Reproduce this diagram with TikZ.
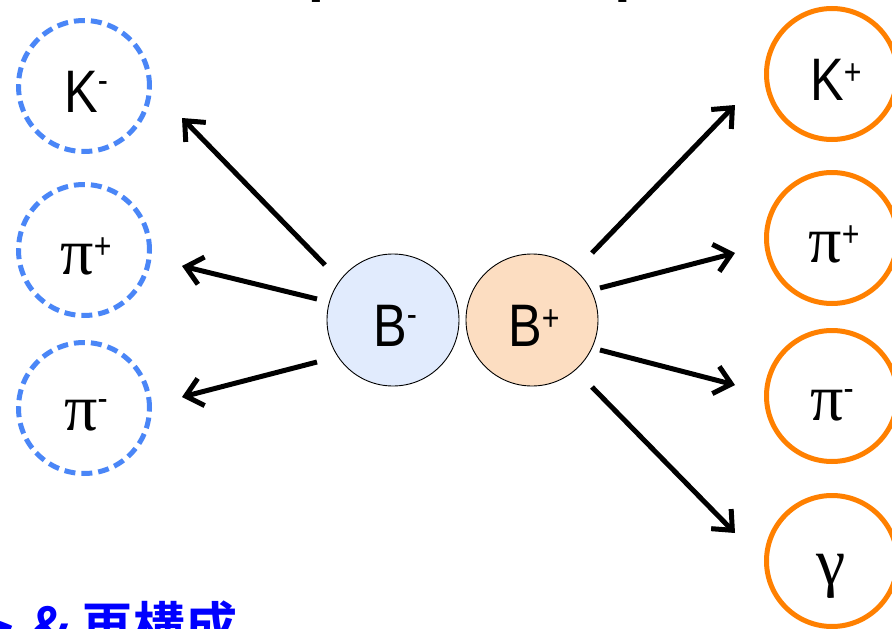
\documentclass[tikz,border=0pt]{standalone}
\usepackage{fontspec}
\usetikzlibrary{arrows.meta}
\newfontfamily\lblfont[FakeStretch=0.84]{Liberation Sans}
\newfontfamily\grkfont{Liberation Serif}
\newfontfamily\cjkfont{Noto Sans CJK JP}[BoldFont=* Bold]
\definecolor{dblue}{HTML}{4A86F7}
\definecolor{oran}{HTML}{FF8000}
\definecolor{bmfill}{HTML}{E1EBFD}
\definecolor{bpfill}{HTML}{FCDDC1}
\newcommand{\supp}[2]{\raisebox{#1}{\fontsize{36}{36}\selectfont\lblfont #2}}
\tikzset{
  antic/.style={circle, draw=dblue, line width=5pt, dash pattern=on 11pt off 6pt, minimum size=131pt, inner sep=0pt},
  partc/.style={circle, draw=oran, line width=5pt, minimum size=131pt, inner sep=0pt},
  mesonc/.style={circle, draw=black, line width=0.9pt, minimum size=132pt, inner sep=0pt},
  lbl/.style={anchor=base, inner sep=0pt, font=\fontsize{60}{60}\selectfont\lblfont},
  glbl/.style={anchor=base, inner sep=0pt, font=\fontsize{66}{66}\selectfont\grkfont},
  decay/.style={line width=5pt, -{Straight Barb[length=16pt,width=28pt]}},
  capt/.style={inner sep=0pt, text=blue, font=\fontsize{52}{52}\selectfont\cjkfont\bfseries},
}
\begin{document}
\begin{tikzpicture}[x=1pt,y=-1pt]
\useasboundingbox (0,0) rectangle (892,629);
\clip (0,0) rectangle (892,629);
\fill[white] (0,0) rectangle (892,629);

% partly visible title brackets
\node[anchor=south west, inner sep=0pt, font=\fontsize{48}{48}\selectfont\lblfont] (lbr) at (309,3) {[};
\node[anchor=south east, inner sep=0pt, font=\fontsize{48}{48}\selectfont\lblfont] (rbr) at (630,3) {]};

% left (dashed) circles
\node[antic] (Km) at (84,86) {};
\node[antic] (pipL) at (84,250) {};
\node[antic] (pimL) at (84,408) {};
\node[lbl] (tKm) at (86,112) {K\supp{20pt}{-}};
\node[glbl] (tpipL) at (86,274) {π\supp{16pt}{+}};
\node[glbl] (tpimL) at (86,430) {π\supp{20pt}{-}};

% right (solid) circles
\node[partc] (Kp) at (832,74) {};
\node[partc] (pipR) at (832,238) {};
\node[partc] (pimR) at (832,396) {};
\node[partc] (gam) at (832,561) {};
\node[lbl] (tKp) at (836,100) {K\supp{16pt}{+}};
\node[glbl] (tpipR) at (834,262) {π\supp{16pt}{+}};
\node[glbl] (tpimR) at (832,420) {π\supp{20pt}{-}};
\node[glbl] (tgam) at (831,584) {γ};

% B mesons
\node[mesonc, fill=bmfill] (Bm) at (393,320) {};
\node[mesonc, fill=bpfill] (Bp) at (532,320) {};
\node[lbl] (tBm) at (395,346) {B\supp{20pt}{-}};
\node[lbl] (tBp) at (534,346) {B\supp{16pt}{+}};

% arrow end points
\coordinate (sL1) at (325,265); \coordinate (eL1) at (182,118);
\coordinate (sL2) at (317,299); \coordinate (eL2) at (182,266);
\coordinate (sL3) at (317,362); \coordinate (eL3) at (182,397);
\coordinate (sR1) at (592,253); \coordinate (eR1) at (735,105);
\coordinate (sR2) at (600,288); \coordinate (eR2) at (735,253);
\coordinate (sR3) at (600,350); \coordinate (eR3) at (735,385);
\coordinate (sR4) at (592,387); \coordinate (eR4) at (735,533);

\draw[decay] (sL1) -- (eL1);
\draw[decay] (sL2) -- (eL2);
\draw[decay] (sL3) -- (eL3);
\draw[decay] (sR1) -- (eR1);
\draw[decay] (sR2) -- (eR2);
\draw[decay] (sR3) -- (eR3);
\draw[decay] (sR4) -- (eR4);

% partly visible bottom caption
\node[capt, anchor=base east] (capA) at (20,645) {ト};
\node[capt, anchor=base west] (capB) at (31,645) {\&\hspace{12pt}再構成};
\end{tikzpicture}
\end{document}
